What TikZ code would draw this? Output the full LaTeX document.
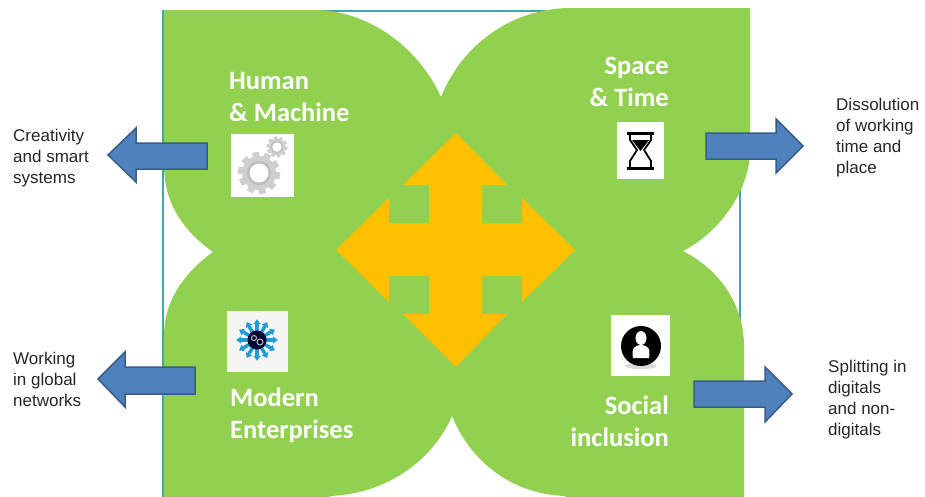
\documentclass[tikz,border=0pt]{standalone}
\usepackage{fontspec}
\setmainfont{Liberation Sans}
\newfontfamily\leaffont{Carlito}
\usetikzlibrary{arrows.meta}
\definecolor{leafgreen}{HTML}{92D050}
\definecolor{crossorange}{HTML}{FFC000}
\definecolor{framecolor}{HTML}{45A5AE}
\definecolor{bluefill}{HTML}{4F81BD}
\definecolor{blueedge}{HTML}{385D8A}
\definecolor{geargrey}{HTML}{CFCFCF}
\definecolor{sunblue}{HTML}{1F9BD7}
\tikzset{
    leaftext/.style={text=white,font=\leaffont\bfseries\fontsize{26.5}{32}\selectfont,inner sep=0pt},
    sidetext/.style={text=black!85,font=\fontsize{17}{21}\selectfont,inner sep=0pt,align=left,anchor=north west},
    iconbox/.style={fill=white,inner sep=0pt},
    bluearrow/.style={fill=bluefill,draw=blueedge,line width=1.5pt,line join=miter},
    pics/gearwheel/.style={code={
        \foreach \a in {0,36,...,324} {
            \fill [geargrey,rotate=\a+10] (-3.5,-21) rectangle (3.5,-14);
        }
        \fill [geargrey] (0,0) circle (17);
        \fill [black!35,opacity=0.45] (0,0) circle (12);
        \fill [white] (0,0) circle (9.5);
    }}
}

\begin{document}
\begin{tikzpicture}[x=1pt,y=-1pt]
    \clip (0,0) rectangle (925,496);
    \draw [framecolor,line width=1.2pt] (163,11) rectangle (740,505);

    % the four leaves, one outline
    \fill [leafgreen] (164,10) -- (318,10)
        .. controls (372,12) and (420,50) .. (441,97)
        .. controls (462,45) and (510,10) .. (567,8)
        -- (750,8) -- (750,150)
        .. controls (750,190) and (720,232) .. (683,251)
        .. controls (720,270) and (744,305) .. (744,346)
        -- (744,510) -- (565,510) -- (565,496)
        .. controls (510,494) and (470,460) .. (452,416)
        .. controls (432,462) and (385,494) .. (330,496)
        -- (330,510) -- (164,510) -- (164,336)
        .. controls (164,300) and (185,272) .. (213,252)
        .. controls (185,232) and (164,205) .. (164,165)
        -- cycle;

    % cross in the middle
    \fill [crossorange] (456,133) -- (507,185) -- (482,185) -- (482,223) -- (522,223)
        -- (522,198) -- (575,250) -- (522,302) -- (522,276) -- (482,276) -- (482,314)
        -- (507,314) -- (456,367) -- (403,314) -- (429,314) -- (429,276) -- (389,276)
        -- (389,302) -- (336,250) -- (389,198) -- (389,223) -- (429,223) -- (429,185)
        -- (403,185) -- cycle;

    % side arrows
    \draw [bluearrow] (108,155) -- (136,128) -- (136,143) -- (207,143) -- (207,169) -- (136,169) -- (136,182) -- cycle;
    \draw [bluearrow] (98,379) -- (125,352) -- (125,367) -- (195,367) -- (195,394) -- (125,394) -- (125,407) -- cycle;
    \draw [bluearrow] (803,146) -- (776,119) -- (776,133) -- (706,133) -- (706,159) -- (776,159) -- (776,173) -- cycle;
    \draw [bluearrow] (792,394) -- (765,367) -- (765,381) -- (694,381) -- (694,407) -- (765,407) -- (765,422) -- cycle;

    % icons
    \node [iconbox,minimum width=63pt,minimum height=63pt] (gearicon) at (262.5,165.5) {};
    \pic [scale=1] at (259,173) {gearwheel};
    \pic [scale=0.5] at (277,147) {gearwheel};

    \node [iconbox,minimum width=47pt,minimum height=57pt] (glassicon) at (640.5,150.5) {};
    \draw [black,line width=1.8pt,line join=round] (630,134) -- (630,140) -- (637,150) -- (630,161) -- (630,168)
        (651,134) -- (651,140) -- (644,150) -- (651,161) -- (651,168);
    \draw [black,line width=3pt] (627,133.5) -- (654,133.5) (627,168) -- (654,168);
    \fill [black] (632,140) -- (649,140) -- (640.5,151) -- cycle;

    \node [iconbox,fill=black!4,minimum width=61pt,minimum height=61pt] (sunicon) at (257.5,341.5) {};
    \foreach \a in {0,30,...,330} {
        \draw [sunblue,line width=3.5pt,-{Latex[length=5pt,width=8pt]}] (257,340) ++(\a:9) -- ++(\a:12);
    }
    \fill [black!80!blue] (257,340) circle (9.5);
    \draw [black!25,line width=1pt] (254,338) circle (2.5) (260,342) circle (3);

    \node [iconbox,minimum width=59pt,minimum height=61pt] (personicon) at (640.5,345.5) {};
    \fill [black!15] (641,366) ellipse (16 and 3);
    \fill [black] (641,346) circle (20);
    \fill [white] (641,338) ellipse (5.5 and 7);
    \fill [white] (633,358) .. controls (631,348) and (635,345) .. (641,345)
        .. controls (647,345) and (651,348) .. (649,358) -- cycle;

    % leaf titles
    \node [leaftext,align=left,anchor=north west] (human) at (229,72) {Human\\\& Machine};
    \node [leaftext,align=right,anchor=north east] (space) at (669,57) {Space\\\& Time};
    \node [leaftext,align=left,anchor=north west] (modern) at (230,388) {Modern\\Enterprises};
    \node [leaftext,align=right,anchor=north east] (social) at (669,396) {Social\\inclusion};

    % outer texts
    \node [sidetext] (creativity) at (13,129) {Creativity\\and smart\\systems};
    \node [sidetext] (working) at (13,352) {Working\\in global\\networks};
    \node [sidetext] (dissolution) at (836,98) {Dissolution\\of working\\time and\\place};
    \node [sidetext] (splitting) at (828,360) {Splitting in\\digitals\\and non-\\digitals};
\end{tikzpicture}
\end{document}
